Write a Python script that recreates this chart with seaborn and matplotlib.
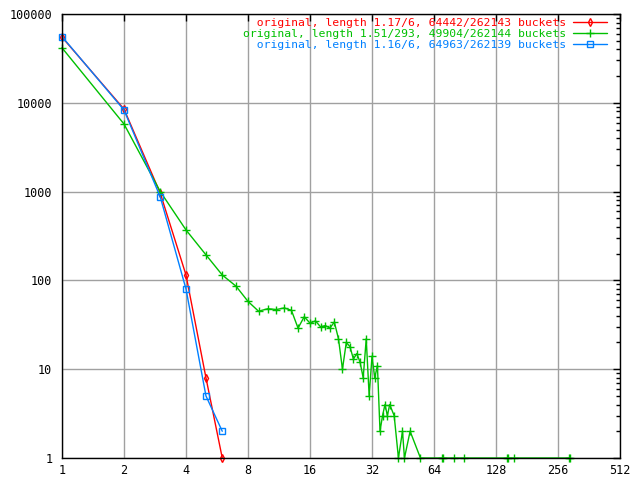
import pandas as pd
import matplotlib
matplotlib.use('Agg')
import matplotlib.pyplot as plt
import matplotlib.ticker as mticker
import seaborn as sns

# bucket chain length histograms (length -> number of buckets)
len_117 = [1, 2, 3, 4, 5, 6]
cnt_117 = [54858, 8500, 960, 115, 8, 1]

len_151 = [1, 2, 3, 4, 5, 6, 7, 8, 9, 10, 11, 12, 13, 14, 15, 16, 17, 18, 19, 20,
           21, 22, 23, 24, 25, 26, 27, 28, 29, 30, 31, 32, 33, 34, 35, 36, 37, 38, 39,
           41, 43, 45, 46, 49, 55, 70, 71, 80, 90, 144, 146, 157, 288, 293]
cnt_151 = [41600, 5770, 1000, 370, 194, 115, 86, 58, 45, 48, 47, 49, 46, 29, 39, 33,
           35, 30, 31, 29, 34, 22, 10, 20, 18, 13, 15, 12, 8, 22, 5, 14, 8, 11, 2, 3,
           4, 3, 4, 3, 1, 2, 1, 2, 1, 1, 1, 1, 1, 1, 1, 1, 1, 1]

len_116 = [1, 2, 3, 4, 5, 6]
cnt_116 = [55706, 8300, 870, 80, 5, 2]

labels = ['  original, length 1.17/6, 64442/262143 buckets',
          'original, length 1.51/293, 49904/262144 buckets',
          '  original, length 1.16/6, 64963/262139 buckets']
colors = ['#ff0000', '#00c000', '#0080ff']
x_ticks = [1, 2, 4, 8, 16, 32, 64, 128, 256, 512]
y_ticks = [1, 10, 100, 1000, 10000, 100000]

sns.set_style('white')
plt.rcParams['font.family'] = ['DejaVu Sans Mono']

fig = plt.figure(figsize=(6.4, 4.8), dpi=100)
ax = fig.add_axes([62 / 640, 22 / 480, 558 / 640, 444 / 480])

series = [
    (len_117, cnt_117, 'd', 4, 'none'),
    (len_151, cnt_151, '+', 5.5, 'full'),
    (len_116, cnt_116, 's', 4.5, 'none'),
]
for (xs, ys, mk, ms, fs), lab, col in zip(series, labels, colors):
    df = pd.DataFrame({'length': xs, 'buckets': ys})
    sns.lineplot(data=df, x='length', y='buckets', ax=ax, color=col, lw=1,
                 marker=mk, markersize=ms, fillstyle=fs, markeredgecolor=col,
                 markeredgewidth=1, label=lab, clip_on=False, estimator=None,
                 sort=True)

ax.set_xscale('log', base=2)
ax.set_yscale('log')
ax.set_xlim(1, 512)
ax.set_ylim(1, 100000)
ax.set_xticks(x_ticks)
ax.xaxis.set_major_formatter(mticker.FuncFormatter(lambda v, p: '%d' % v))
ax.xaxis.set_minor_locator(mticker.NullLocator())
ax.set_yticks(y_ticks)
ax.yaxis.set_major_formatter(mticker.FuncFormatter(lambda v, p: '%d' % v))
ax.yaxis.set_minor_locator(mticker.LogLocator(base=10, subs=range(2, 10)))
ax.yaxis.set_minor_formatter(mticker.NullFormatter())
ax.set_xlabel('')
ax.set_ylabel('')

ax.grid(True, which='major', color='#a0a0a0', lw=1)
ax.tick_params(which='both', direction='in', top=True, right=True,
               colors='black', labelsize=8.5)
ax.tick_params(which='major', length=5, width=1)
ax.tick_params(which='minor', length=3, width=1)
ax.tick_params(axis='y', pad=7)
ax.tick_params(axis='x', pad=4)
for s in ax.spines.values():
    s.set_color('black')
    s.set_linewidth(1)

leg = ax.legend(loc='upper right', bbox_to_anchor=(607 / 640, 1 - 18 / 480),
                bbox_transform=fig.transFigure, frameon=False, markerfirst=False,
                labelcolor='linecolor', fontsize=8.2, labelspacing=0.1,
                handlelength=3.0, handletextpad=0.6, borderpad=0, borderaxespad=0)

fig.savefig('out.png', dpi=100)
